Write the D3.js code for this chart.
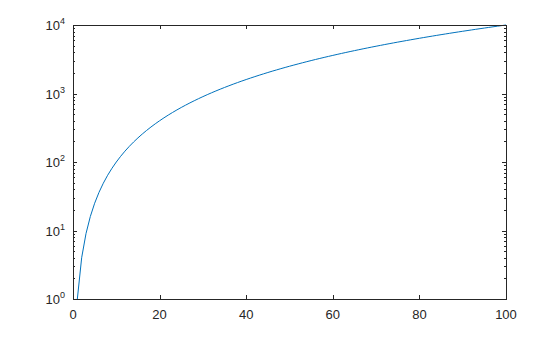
<!DOCTYPE html>
<html>
<head>
<meta charset="utf-8">
<script src="https://cdn.jsdelivr.net/npm/d3@7"></script>
<style>
  body { margin: 0; background: #fff; }
  text { font-family: "Liberation Sans", Arial, sans-serif; fill: #262626; }
</style>
</head>
<body>
<div id="chart"></div>
<script>
// x = 1..100, y (it is x squared)
var xValues = [1,2,3,4,5,6,7,8,9,10,11,12,13,14,15,16,17,18,19,20,
  21,22,23,24,25,26,27,28,29,30,31,32,33,34,35,36,37,38,39,40,
  41,42,43,44,45,46,47,48,49,50,51,52,53,54,55,56,57,58,59,60,
  61,62,63,64,65,66,67,68,69,70,71,72,73,74,75,76,77,78,79,80,
  81,82,83,84,85,86,87,88,89,90,91,92,93,94,95,96,97,98,99,100];
var yValues = [1,4,9,16,25,36,49,64,81,100,121,144,169,196,225,256,289,324,361,400,
  441,484,529,576,625,676,729,784,841,900,961,1024,1089,1156,1225,1296,1369,1444,1521,1600,
  1681,1764,1849,1936,2025,2116,2209,2304,2401,2500,2601,2704,2809,2916,3025,3136,3249,3364,3481,3600,
  3721,3844,3969,4096,4225,4356,4489,4624,4761,4900,5041,5184,5329,5476,5625,5776,5929,6084,6241,6400,
  6561,6724,6889,7056,7225,7396,7569,7744,7921,8100,8281,8464,8649,8836,9025,9216,9409,9604,9801,10000];
var xTicks = [0, 20, 40, 60, 80, 100];
var yExps = [0, 1, 2, 3, 4];

var W = 560, H = 337;
var pl = 73, pr = 506, pt = 25, pb = 299;

var svg = d3.select("#chart").append("svg")
    .attr("width", W).attr("height", H);

var x = d3.scaleLinear().domain([0, 100]).range([pl, pr]);
var y = d3.scaleLog().domain([1, 10000]).range([pb, pt]);

// data line
var line = d3.line()
    .x(function(d, i){ return x(xValues[i]); })
    .y(function(d){ return y(d); });
svg.append("path")
    .datum(yValues)
    .attr("d", line)
    .attr("fill", "none")
    .attr("stroke", "#0072bd")
    .attr("stroke-width", 1);

var ax = svg.append("g").attr("stroke", "#262626").attr("stroke-width", 1);

// x ticks, inward on bottom and top
xTicks.forEach(function(t){
    var px = Math.round(x(t)) + 0.5;
    ax.append("line").attr("x1", px).attr("x2", px).attr("y1", pb).attr("y2", pb - 4);
    ax.append("line").attr("x1", px).attr("x2", px).attr("y1", pt).attr("y2", pt + 4);
    svg.append("text")
        .attr("x", x(t)).attr("y", pb + 20)
        .attr("text-anchor", "middle")
        .attr("font-size", 13)
        .text(t);
});

// y ticks: major at decades, minor at 2..9
yExps.forEach(function(e){
    var v = Math.pow(10, e);
    var py = Math.round(y(v)) + 0.5;
    ax.append("line").attr("x1", pl).attr("x2", pl + 4).attr("y1", py).attr("y2", py);
    ax.append("line").attr("x1", pr).attr("x2", pr - 4).attr("y1", py).attr("y2", py);
    var lab = svg.append("text")
        .attr("x", pl - 8).attr("y", y(v) + 5)
        .attr("text-anchor", "end")
        .attr("font-size", 13);
    lab.append("tspan").text("10");
    lab.append("tspan").attr("dy", -6).attr("font-size", 9).text(e);
    if (e < 4) {
        for (var m = 2; m <= 9; m++) {
            var my = Math.round(y(m * v)) + 0.5;
            ax.append("line").attr("x1", pl).attr("x2", pl + 2).attr("y1", my).attr("y2", my);
            ax.append("line").attr("x1", pr).attr("x2", pr - 2).attr("y1", my).attr("y2", my);
        }
    }
});

// box
ax.append("rect")
    .attr("x", pl + 0.5).attr("y", pt + 0.5)
    .attr("width", pr - pl).attr("height", pb - pt)
    .attr("fill", "none");
</script>
</body>
</html>
